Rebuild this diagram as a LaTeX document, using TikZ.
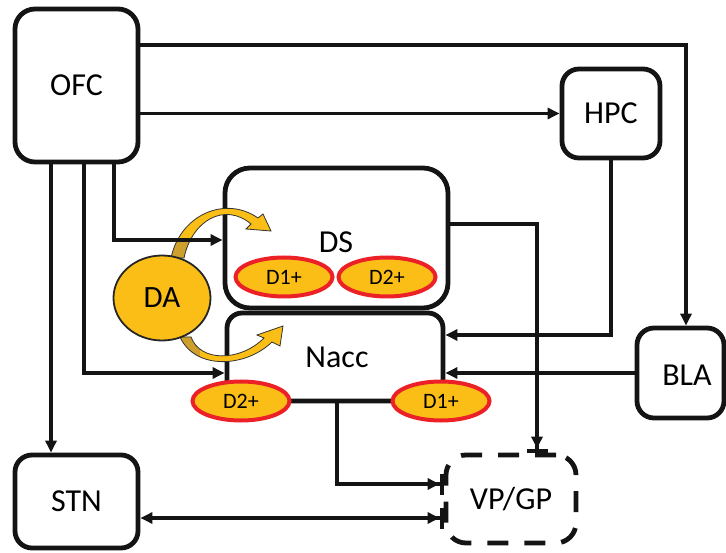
\documentclass[tikz,border=0pt]{standalone}
\usepackage{fontspec}
\setmainfont{Carlito}
\usetikzlibrary{arrows.meta,shapes.geometric,calc}
\definecolor{dagold}{RGB}{251,190,22}
\definecolor{dadark}{RGB}{205,160,45}
\definecolor{dared}{RGB}{236,32,39}
\begin{document}
\begin{tikzpicture}[x=1pt,y=-1pt,
  box/.style={draw=black!92, line width=4.8pt, rounded corners=17pt, inner sep=0pt,
    font=\fontsize{32}{36}\selectfont},
  dbox/.style={box, dash pattern=on 21pt off 16pt},
  lbl/.style={inner sep=0pt, font=\fontsize{32}{36}\selectfont},
  rec/.style={ellipse, draw=dared, line width=4pt, fill=dagold, inner sep=0pt,
    minimum width=97pt, minimum height=39pt, font=\fontsize{22}{24}\selectfont},
  conn/.style={draw=black!92, line width=3.8pt, -{Triangle[length=12pt,width=11pt]}},
  inh/.style={draw=black!92, line width=3.8pt,
    -{Triangle[length=12pt,width=11pt]Bar[width=21pt,line width=4pt]}},
  yarrow/.style={fill=dagold, draw=black!80, line width=0.8pt}
]
\useasboundingbox (0,0) rectangle (726,553);

% boxes
\node[box, minimum width=123pt, minimum height=153pt, rounded corners=20pt] (OFC) at (76.5,85.5) {OFC};
\node[box, minimum width=98pt, minimum height=89pt] (HPC) at (611,113.5) {HPC};
\node[box, minimum width=87pt, minimum height=90pt] (BLA) at (680.5,373) {};
\node[lbl] (BLAt) at (687,375) {BLA};
\node[box, minimum width=223pt, minimum height=140pt, rounded corners=25pt] (DS) at (336.5,238) {};
\node[lbl] (DSt) at (336,242) {DS};
\node[box, minimum width=216pt, minimum height=88pt, rounded corners=15pt] (Nacc) at (335,357) {};
\node[lbl] (Nacct) at (337,357) {Nacc};
\node[box, minimum width=123pt, minimum height=93pt] (STN) at (76.5,501.5) {STN};
\node[dbox, minimum width=130pt, minimum height=88pt, rounded corners=20pt] (VP) at (511,499) {VP/GP};

% curved dopamine arrows
\def\uppath{(171,258) .. controls (180,215) and (225,195) .. (258,218) -- (263,214) -- (271,231) -- (246,229) -- (251,224) .. controls (225,202) and (192,220) .. (184,258) -- cycle}
\def\lowpath{(180,337) .. controls (195,370) and (245,368) .. (272,342) -- (280,346) -- (283,326) -- (257,335) -- (264,338) .. controls (240,362) and (200,362) .. (191,337) -- cycle}
\fill[dagold] \uppath;
\begin{scope}
  \clip \uppath;
  \fill[dadark] (150,238) rectangle (200,265);
\end{scope}
\draw[black!80, line width=0.8pt] \uppath;
\fill[dagold] \lowpath;
\begin{scope}
  \clip \lowpath;
  \fill[dadark] (170,330) rectangle (200,375);
\end{scope}
\draw[black!80, line width=0.8pt] \lowpath;

% connectors
\draw[conn] ([yshift=40.5pt]OFC.east) -| ([xshift=5.5pt]BLA.north);
\draw[conn] (OFC.east |- HPC.west) -- (HPC.west);
\draw[conn] (HPC.south) |- ([yshift=22pt]Nacc.east);
\draw[conn] (BLA.west) -- (BLA.west -| Nacc.east);
\draw[conn] ([xshift=-25.5pt]OFC.south) -- ([xshift=-25.5pt]OFC.south |- STN.north);
\draw[conn] ([xshift=7.5pt]OFC.south) |- ([yshift=-16pt]Nacc.west);
\draw[conn] ([xshift=37.5pt]OFC.south) |- ([yshift=-2pt]DS.west);
\draw[inh] ([yshift=14pt]DS.east) -| ([xshift=26pt]VP.north);
\draw[inh] ([xshift=2pt]Nacc.south) |- ([yshift=15pt]VP.west);
\draw[inh, {Triangle[length=12pt,width=11pt]}-{Triangle[length=12pt,width=11pt]Bar[width=21pt,line width=4pt]}]
  ([yshift=-16.5pt]STN.east) -- ([yshift=-16.5pt]STN.east -| VP.west);

% receptors
\node[rec] (dsd1) at (284,277) {D1+};
\node[rec] (dsd2) at (387,277) {D2+};
\node[rec] (nd2) at (241,401) {D2+};
\node[rec] (nd1) at (441,401) {D1+};

% dopamine
\node[ellipse, draw=black!85, line width=1.8pt, fill=dagold, minimum width=97pt,
  minimum height=85pt, inner sep=0pt, font=\fontsize{31}{34}\selectfont] (DA) at (162,298) {DA};
\end{tikzpicture}
\end{document}
